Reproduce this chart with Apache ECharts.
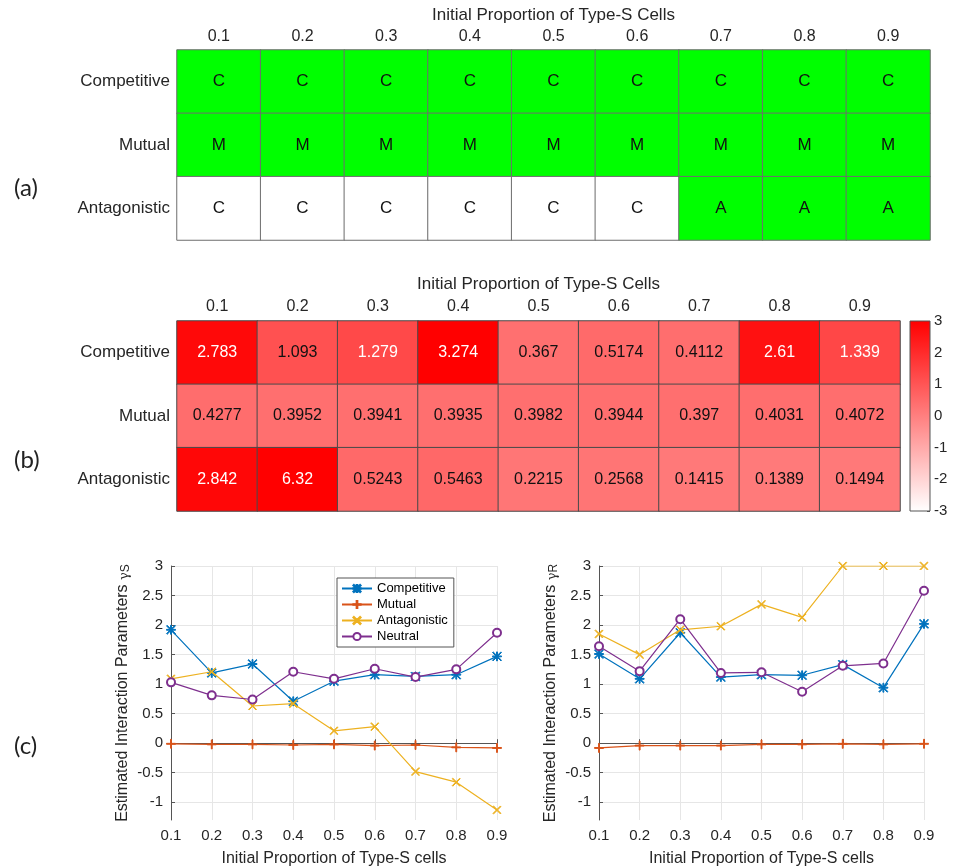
<!DOCTYPE html>
<html>
<head>
<meta charset="utf-8">
<script src="https://cdn.jsdelivr.net/npm/echarts@6/dist/echarts.min.js"></script>
<style>
  html, body { margin: 0; padding: 0; background: #fff; }
  #main { width: 953px; height: 868px; }
</style>
</head>
<body>
<div id="main"></div>
<script>
// data
const props = ['0.1', '0.2', '0.3', '0.4', '0.5', '0.6', '0.7', '0.8', '0.9'];
const kinds = ['Competitive', 'Mutual', 'Antagonistic'];

// (a) winning model per cell, and whether it matches the truth (green)
const winnerA = [
    ['C', 'C', 'C', 'C', 'C', 'C', 'C', 'C', 'C'],
    ['M', 'M', 'M', 'M', 'M', 'M', 'M', 'M', 'M'],
    ['C', 'C', 'C', 'C', 'C', 'C', 'A', 'A', 'A']
];
const matchA = [
    [1, 1, 1, 1, 1, 1, 1, 1, 1],
    [1, 1, 1, 1, 1, 1, 1, 1, 1],
    [0, 0, 0, 0, 0, 0, 1, 1, 1]
];

// (b) heatmap values
const valuesB = [
    [2.783, 1.093, 1.279, 3.274, 0.367, 0.5174, 0.4112, 2.61, 1.339],
    [0.4277, 0.3952, 0.3941, 0.3935, 0.3982, 0.3944, 0.397, 0.4031, 0.4072],
    [2.842, 6.32, 0.5243, 0.5463, 0.2215, 0.2568, 0.1415, 0.1389, 0.1494]
];
const colorbarRange = [-3, 3];

// (c) estimated gamma_S
const gsCompetitive = [1.92, 1.19, 1.34, 0.71, 1.05, 1.16, 1.13, 1.16, 1.47];
const gsMutual = [-0.01, -0.02, -0.02, -0.03, -0.02, -0.04, -0.03, -0.07, -0.08];
const gsAntagonistic = [1.09, 1.21, 0.63, 0.67, 0.21, 0.28, -0.48, -0.66, -1.13];
const gsNeutral = [1.03, 0.81, 0.74, 1.21, 1.09, 1.26, 1.12, 1.25, 1.87];

// (c) estimated gamma_R
const grCompetitive = [1.51, 1.09, 1.87, 1.12, 1.16, 1.15, 1.33, 0.94, 2.02];
const grMutual = [-0.08, -0.04, -0.04, -0.04, -0.02, -0.02, -0.01, -0.02, -0.01];
const grAntagonistic = [1.85, 1.50, 1.92, 1.98, 2.35, 2.13, 3.0, 3.0, 3.0];
const grNeutral = [1.64, 1.22, 2.10, 1.19, 1.20, 0.87, 1.31, 1.35, 2.58];

const yTicksC = [-1, -0.5, 0, 0.5, 1, 1.5, 2, 2.5, 3];

const FONT = '"Liberation Sans", Arial, sans-serif';
const TXT = '#262626';

const SYM_PLUS = 'path://M0,9L20,9L20,11L0,11Z M9,0L11,0L11,20L9,20Z';
const SYM_X = 'path://M1.4,0L10,8.6L18.6,0L20,1.4L11.4,10L20,18.6L18.6,20L10,11.4L1.4,20L0,18.6L8.6,10L0,1.4Z';
const SYM_STAR = SYM_PLUS + ' M1.4,0L10,8.6L18.6,0L20,1.4L11.4,10L20,18.6L18.6,20L10,11.4L1.4,20L0,18.6L8.6,10L0,1.4Z';

const lineStyles = [
    { name: 'Competitive', color: '#0072BD', symbol: SYM_STAR, size: 9 },
    { name: 'Mutual', color: '#D95319', symbol: SYM_PLUS, size: 9 },
    { name: 'Antagonistic', color: '#EDB120', symbol: SYM_X, size: 8 },
    { name: 'Neutral', color: '#7E2F8E', symbol: 'emptyCircle', size: 8 }
];

function cellData(matrix) {
    const out = [];
    matrix.forEach((row, j) => row.forEach((v, i) => out.push([i, j, v])));
    return out;
}

function lineSeries(values, k, axisIndex) {
    const s = lineStyles[k];
    return {
        type: 'line',
        name: s.name,
        xAxisIndex: axisIndex,
        yAxisIndex: axisIndex,
        data: values,
        symbol: s.symbol,
        symbolSize: s.size,
        showAllSymbol: true,
        lineStyle: { color: s.color, width: 1.2 },
        itemStyle: { color: s.color, borderColor: s.color, borderWidth: 1 },
        emphasis: { disabled: true },
        z: 3 + k
    };
}

function topAxis(gridIndex, nameGap, margin) {
    return {
        type: 'category', gridIndex: gridIndex, data: props, position: 'top',
        name: 'Initial Proportion of Type-S Cells', nameLocation: 'middle', nameGap: nameGap,
        nameTextStyle: { fontFamily: FONT, fontSize: 17, color: TXT },
        axisLine: { show: false }, axisTick: { show: false },
        axisLabel: { fontFamily: FONT, fontSize: 16, color: TXT, margin: margin },
        splitLine: { show: false }
    };
}

function rowAxis(gridIndex) {
    return {
        type: 'category', gridIndex: gridIndex, data: kinds, inverse: true,
        axisLine: { show: false }, axisTick: { show: false },
        axisLabel: { fontFamily: FONT, fontSize: 17, color: TXT, margin: 7 }
    };
}

function cAxisX(gridIndex) {
    return {
        type: 'category',
        gridIndex: gridIndex,
        data: props,
        boundaryGap: false,
        name: 'Initial Proportion of Type-S cells',
        nameLocation: 'middle',
        nameGap: 31,
        nameTextStyle: { fontFamily: FONT, fontSize: 16, color: TXT },
        axisLine: { lineStyle: { color: '#555', width: 1 } },
        axisTick: { inside: true, length: 4, lineStyle: { color: '#555' } },
        axisLabel: { fontFamily: FONT, fontSize: 15, color: TXT, margin: 8 },
        splitLine: { show: true, lineStyle: { color: '#e6e6e6', width: 1 } }
    };
}

function cAxisY(gridIndex, sub) {
    return {
        type: 'value',
        gridIndex: gridIndex,
        min: -1.3,
        max: 3,
        name: '{a|Estimated Interaction Parameters }{g|γ}{s|' + sub + '}',
        nameLocation: 'middle',
        nameGap: 39,
        nameRotate: 90,
        nameTextStyle: {
            rich: {
                a: { fontFamily: FONT, fontSize: 16, color: TXT },
                g: { fontFamily: 'DejaVu Serif, serif', fontSize: 13, color: TXT, padding: [4, 0, 0, 0] },
                s: { fontFamily: FONT, fontSize: 12, color: TXT, padding: [7, 0, 0, 0] }
            }
        },
        axisLine: { show: true, lineStyle: { color: '#555', width: 1 } },
        axisTick: { show: true, inside: true, length: 4, customValues: yTicksC, lineStyle: { color: '#555' } },
        axisLabel: { fontFamily: FONT, fontSize: 15, color: TXT, customValues: yTicksC, margin: 8 },
        splitLine: { show: true, lineStyle: { color: '#e6e6e6', width: 1 } }
    };
}

const chart = echarts.init(document.getElementById('main'), null, { renderer: 'canvas' });

const panelFont = { fontFamily: 'Lato, sans-serif', fontSize: 24, fontWeight: 'normal', color: '#222' };

const option = {
    backgroundColor: '#fff',
    animation: false,
    title: [
        { text: '(a)', left: 9, top: 171, textStyle: panelFont },
        { text: '(b)', left: 9, top: 443, textStyle: panelFont },
        { text: '(c)', left: 9, top: 729, textStyle: panelFont }
    ],
    grid: [
        { left: 177, top: 50, width: 753, height: 190 },
        { left: 177, top: 321, width: 723, height: 190 },
        { left: 910, top: 321, width: 20, height: 190 },
        { left: 171, top: 566, width: 326, height: 254 },
        { left: 599, top: 566, width: 325, height: 254 }
    ],
    legend: {
        data: lineStyles.map(s => s.name),
        orient: 'vertical',
        left: 337,
        top: 578,
        itemWidth: 30,
        itemHeight: 9,
        itemGap: 3,
        padding: [4, 6, 4, 4],
        backgroundColor: '#fff',
        borderColor: '#555',
        borderWidth: 1,
        borderRadius: 0,
        textStyle: { fontFamily: FONT, fontSize: 13, color: '#000' },
        selectedMode: false
    },
    visualMap: [
        {
            type: 'piecewise', show: false, seriesIndex: 0, dimension: 2,
            pieces: [{ value: 1, color: '#00ff00' }, { value: 0, color: '#ffffff' }]
        },
        {
            type: 'continuous', show: false, seriesIndex: 1, dimension: 2,
            min: colorbarRange[0], max: colorbarRange[1],
            inRange: { color: ['#ffffff', '#ff0000'] },
            outOfRange: { color: '#ff0000' }
        }
    ],
    xAxis: [
        topAxis(0, 26, 5),
        topAxis(1, 28, 6),
        { type: 'category', gridIndex: 2, data: [''], show: false },
        cAxisX(3),
        cAxisX(4)
    ],
    yAxis: [
        rowAxis(0),
        rowAxis(1),
        {
            type: 'value', gridIndex: 2, position: 'right',
            min: colorbarRange[0], max: colorbarRange[1], interval: 1,
            axisLine: { show: false },
            axisTick: { show: true, inside: true, length: 3, lineStyle: { color: '#555' } },
            axisLabel: { fontFamily: FONT, fontSize: 15, color: TXT, margin: 4 },
            splitLine: { show: false }
        },
        cAxisY(3, 'S'),
        cAxisY(4, 'R')
    ],
    series: [
        {
            name: 'a',
            type: 'heatmap',
            xAxisIndex: 0, yAxisIndex: 0,
            data: cellData(matchA),
            itemStyle: { borderColor: '#6e6e6e', borderWidth: 1 },
            label: {
                show: true,
                fontFamily: FONT, fontSize: 17, color: '#111',
                formatter: p => winnerA[p.value[1]][p.value[0]]
            },
            emphasis: { disabled: true }
        },
        {
            name: 'b',
            type: 'heatmap',
            xAxisIndex: 1, yAxisIndex: 1,
            data: cellData(valuesB).map(d => ({
                value: d,
                label: { color: d[2] > 1.2 ? '#ffffff' : '#111111' }
            })),
            itemStyle: { borderColor: '#4a4a4a', borderWidth: 1 },
            label: {
                show: true,
                fontFamily: FONT, fontSize: 16,
                formatter: p => String(p.value[2])
            },
            emphasis: { disabled: true }
        },
        {
            name: 'colorbar',
            type: 'custom',
            xAxisIndex: 2, yAxisIndex: 2,
            data: [[0, colorbarRange[0], colorbarRange[1]]],
            renderItem: function (params, api) {
                const top = api.coord([0, api.value(2)]);
                const bottom = api.coord([0, api.value(1)]);
                const w = api.size([1, 0])[0];
                return {
                    type: 'rect',
                    shape: { x: top[0] - w / 2, y: top[1], width: w, height: bottom[1] - top[1] },
                    style: {
                        fill: new echarts.graphic.LinearGradient(0, 0, 0, 1, [
                            { offset: 0, color: '#ff0000' },
                            { offset: 1, color: '#ffffff' }
                        ]),
                        stroke: '#555',
                        lineWidth: 1
                    }
                };
            },
            silent: true
        },
        lineSeries(gsCompetitive, 0, 3),
        lineSeries(gsMutual, 1, 3),
        lineSeries(gsAntagonistic, 2, 3),
        lineSeries(gsNeutral, 3, 3),
        lineSeries(grCompetitive, 0, 4),
        lineSeries(grMutual, 1, 4),
        lineSeries(grAntagonistic, 2, 4),
        lineSeries(grNeutral, 3, 4)
    ]
};

chart.setOption(option);
window.addEventListener('resize', () => chart.resize());
</script>
</body>
</html>
